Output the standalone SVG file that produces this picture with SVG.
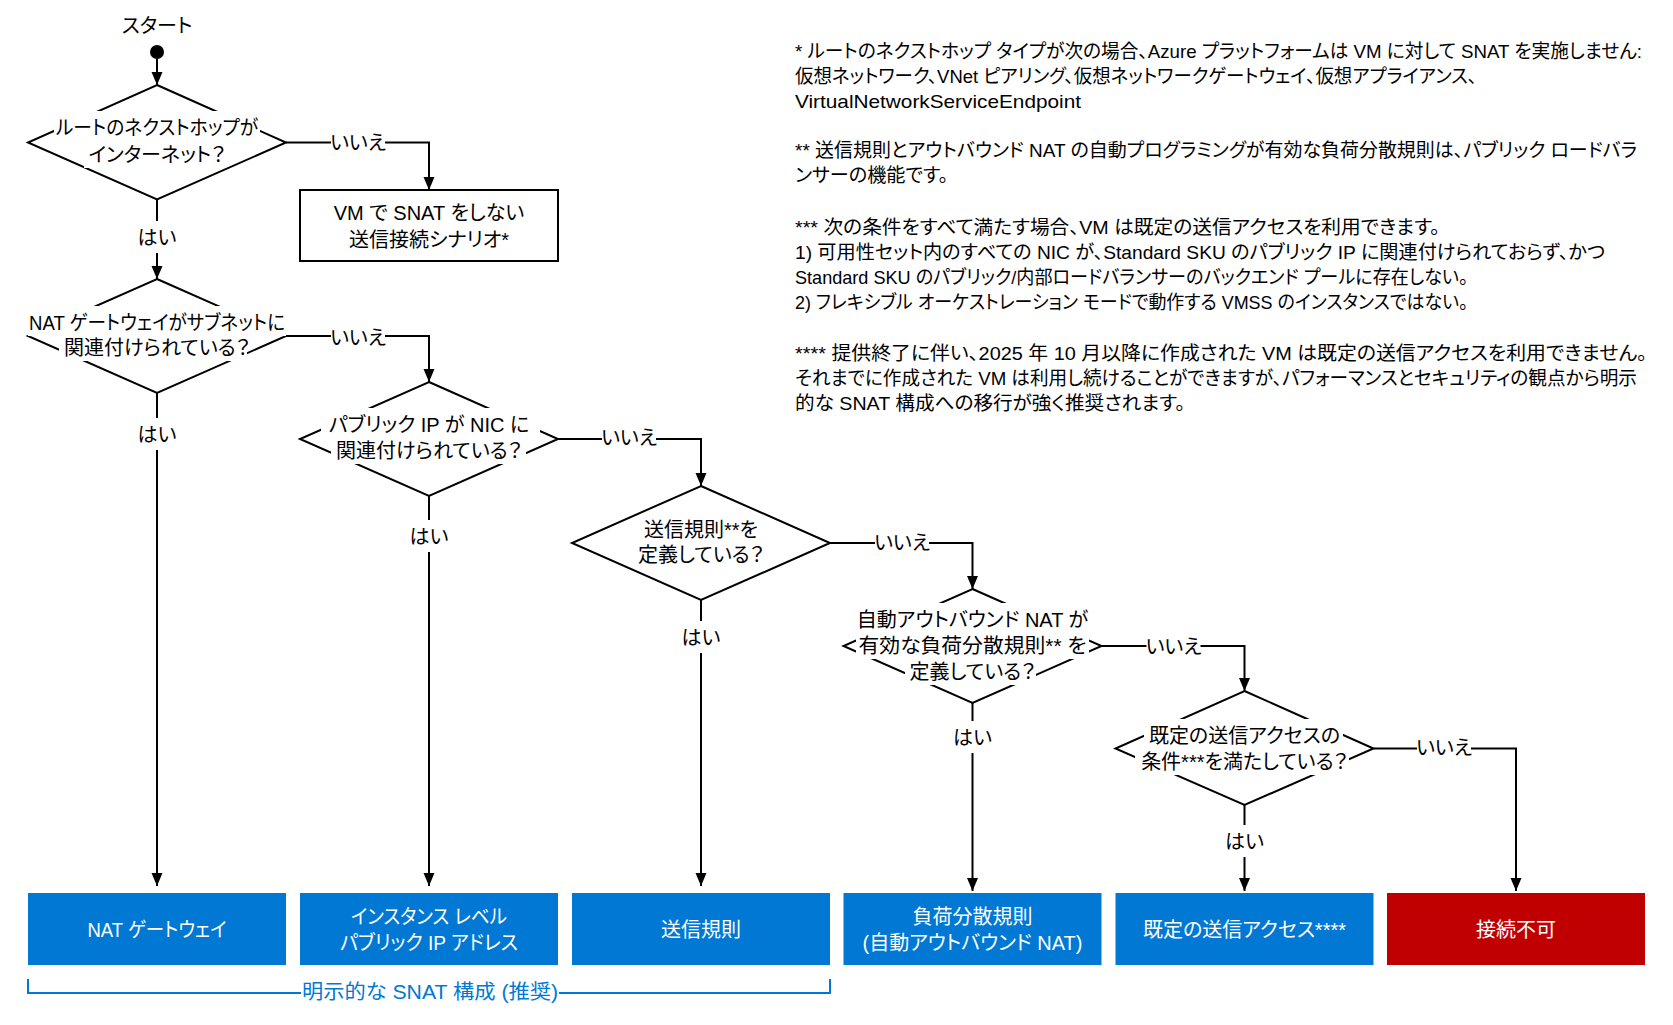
<svg xmlns="http://www.w3.org/2000/svg" width="1673" height="1025" viewBox="0 0 1673 1025">
<style>
text { font-family: "Liberation Sans", "Noto Sans CJK JP", sans-serif; font-size: 20px; font-feature-settings: "palt"; fill: #000; }
.c { text-anchor: middle; }
.bg { fill: #fff; }
.dia { fill: #fff; stroke: #000; stroke-width: 2; }
.edge { fill: none; stroke: #000; stroke-width: 2; marker-end: url(#ah); }
.box { stroke: none; }
.blue { fill: #0078D4; }
.red { fill: #C00000; }
.wt { fill: #fff; }
.bt { fill: #0078D4; }
.n { font-size: 19px; }
</style>
<defs>
<marker id="ah" markerUnits="userSpaceOnUse" markerWidth="14" markerHeight="12" refX="13" refY="6" orient="auto">
<path d="M0,0.5 L13,6 L0,11.5 z" fill="#000"/>
</marker>
</defs>
<rect x="0" y="0" width="1673" height="1025" fill="#fff"/>

<g id="start">
<text class="c" x="157" y="33">スタート</text>
<circle cx="157" cy="52" r="7" fill="#000"/>
</g>

<g id="d1">
<polygon class="dia" points="157,85 286,142.5 157,199.5 28,142.5"/>
<rect class="bg" x="54" y="111" width="206" height="30"/>
<rect class="bg" x="84" y="138" width="132" height="30"/>
<text class="c" x="157" y="135" textLength="202" lengthAdjust="spacingAndGlyphs">ルートのネクストホップが</text>
<text class="c" x="157" y="162">インターネット？</text>
</g>

<g id="no-snat">
<rect x="300" y="190" width="258" height="71" fill="#fff" stroke="#000" stroke-width="2"/>
<text class="c" x="429" y="220">VM で SNAT をしない</text>
<text class="c" x="429" y="247">送信接続シナリオ*</text>
</g>

<g id="d2">
<polygon class="dia" points="157,279 286,336 157,393 28,336"/>
<rect class="bg" x="28" y="306" width="259" height="30"/>
<rect class="bg" x="59" y="331" width="188" height="30"/>
<text class="c" x="157" y="330" textLength="256" lengthAdjust="spacingAndGlyphs">NAT ゲートウェイがサブネットに</text>
<text class="c" x="157" y="355">関連付けられている？</text>
</g>

<g id="d3">
<polygon class="dia" points="429,382 558,439 429,496 300,439"/>
<rect class="bg" x="321" y="408" width="219" height="30"/>
<rect class="bg" x="331" y="434" width="195" height="30"/>
<text class="c" x="429" y="432">パブリック IP が NIC に</text>
<text class="c" x="429" y="458">関連付けられている？</text>
</g>

<g id="d4">
<polygon class="dia" points="701,486 830,543 701,600 572,543"/>
<text class="c" x="701" y="537">送信規則**を</text>
<text class="c" x="701" y="562">定義している？</text>
</g>

<g id="d5">
<polygon class="dia" points="972.5,589 1101.5,646 972.5,703 843.5,646"/>
<rect class="bg" x="858" y="603" width="235" height="30"/>
<rect class="bg" x="856" y="629" width="233" height="30"/>
<rect class="bg" x="905" y="655" width="131" height="30"/>
<text class="c" x="972.5" y="627">自動アウトバウンド NAT が</text>
<text class="c" x="972.5" y="653" textLength="228" lengthAdjust="spacingAndGlyphs">有効な負荷分散規則** を</text>
<text class="c" x="972.5" y="679">定義している？</text>
</g>

<g id="d6">
<polygon class="dia" points="1244.5,691 1373.5,748.5 1244.5,805 1115.5,748.5"/>
<rect class="bg" x="1144" y="719" width="199" height="30"/>
<rect class="bg" x="1135" y="745" width="214" height="30"/>
<text class="c" x="1244.5" y="743">既定の送信アクセスの</text>
<text class="c" x="1244.5" y="769">条件***を満たしている？</text>
</g>

<g id="r1">
<rect class="box blue" x="28" y="893" width="258" height="72"/>
<text class="c wt" x="157" y="937" textLength="139" lengthAdjust="spacingAndGlyphs">NAT ゲートウェイ</text>
</g>
<g id="r2">
<rect class="box blue" x="300" y="893" width="258" height="72"/>
<text class="c wt" x="429" y="924" textLength="156" lengthAdjust="spacingAndGlyphs">インスタンス レベル</text>
<text class="c wt" x="429" y="950" textLength="178" lengthAdjust="spacingAndGlyphs">パブリック IP アドレス</text>
</g>
<g id="r3">
<rect class="box blue" x="572" y="893" width="258" height="72"/>
<text class="c wt" x="701" y="937">送信規則</text>
</g>
<g id="r4">
<rect class="box blue" x="843.5" y="893" width="258" height="72"/>
<text class="c wt" x="972.5" y="924">負荷分散規則</text>
<text class="c wt" x="972.5" y="950">(自動アウトバウンド NAT)</text>
</g>
<g id="r5">
<rect class="box blue" x="1115.5" y="893" width="258" height="72"/>
<text class="c wt" x="1244.5" y="937">既定の送信アクセス****</text>
</g>
<g id="r6">
<rect class="box red" x="1387" y="893" width="258" height="72"/>
<text class="c wt" x="1516" y="937">接続不可</text>
</g>

<g id="bracket">
<path d="M28,979 V993 H830 V979" fill="none" stroke="#0078D4" stroke-width="2"/>
<rect class="bg" x="301" y="980" width="258" height="26"/>
<text class="c bt" x="430" y="999" textLength="256" lengthAdjust="spacingAndGlyphs">明示的な SNAT 構成 (推奨)</text>
</g>

<g id="notes" class="n">
<text class="n" x="795" y="58" textLength="847" lengthAdjust="spacingAndGlyphs">* ルートのネクストホップ タイプが次の場合、Azure プラットフォームは VM に対して SNAT を実施しません:</text>
<text class="n" x="795" y="83" textLength="682" lengthAdjust="spacingAndGlyphs">仮想ネットワーク、VNet ピアリング、仮想ネットワークゲートウェイ、仮想アプライアンス、</text>
<text class="n" x="795" y="108" textLength="286" lengthAdjust="spacingAndGlyphs">VirtualNetworkServiceEndpoint</text>
<text class="n" x="795" y="157" textLength="842" lengthAdjust="spacingAndGlyphs">** 送信規則とアウトバウンド NAT の自動プログラミングが有効な負荷分散規則は、パブリック ロードバラ</text>
<text class="n" x="795" y="182" textLength="153" lengthAdjust="spacingAndGlyphs">ンサーの機能です。</text>
<text class="n" x="795" y="234" textLength="645" lengthAdjust="spacingAndGlyphs">*** 次の条件をすべて満たす場合、VM は既定の送信アクセスを利用できます。</text>
<text class="n" x="795" y="259" textLength="810" lengthAdjust="spacingAndGlyphs">1) 可用性セット内のすべての NIC が、Standard SKU のパブリック IP に関連付けられておらず、かつ</text>
<text class="n" x="795" y="284" textLength="673" lengthAdjust="spacingAndGlyphs">Standard SKU のパブリック/内部ロードバランサーのバックエンド プールに存在しない。</text>
<text class="n" x="795" y="309" textLength="673" lengthAdjust="spacingAndGlyphs">2) フレキシブル オーケストレーション モードで動作する VMSS のインスタンスではない。</text>
<text class="n" x="795" y="360" textLength="852" lengthAdjust="spacingAndGlyphs">**** 提供終了に伴い、2025 年 10 月以降に作成された VM は既定の送信アクセスを利用できません。</text>
<text class="n" x="795" y="385" textLength="842" lengthAdjust="spacingAndGlyphs">それまでに作成された VM は利用し続けることができますが、パフォーマンスとセキュリティの観点から明示</text>
<text class="n" x="795" y="410" textLength="390" lengthAdjust="spacingAndGlyphs">的な SNAT 構成への移行が強く推奨されます。</text>
</g>

<g id="connectors">
<path class="edge" d="M157,59 V85"/>
<path class="edge" d="M286,142.5 H429 V190"/>
<path class="edge" d="M157,199.5 V279"/>
<path class="edge" d="M286,336 H429 V382"/>
<path class="edge" d="M157,393 V886"/>
<path class="edge" d="M558,439 H701 V486"/>
<path class="edge" d="M429,496 V886"/>
<path class="edge" d="M830,543 H972.5 V589"/>
<path class="edge" d="M701,600 V886"/>
<path class="edge" d="M1101.5,646 H1244.5 V691"/>
<path class="edge" d="M972.5,703 V891"/>
<path class="edge" d="M1373.5,748.5 H1516 V891"/>
<path class="edge" d="M1244.5,805 V891"/>
</g>

<g id="edge-labels">
<rect class="bg" x="331" y="128" width="54" height="28"/>
<text class="c" x="358" y="150">いいえ</text>
<rect class="bg" x="331" y="323" width="54" height="28"/>
<text class="c" x="358" y="345">いいえ</text>
<rect class="bg" x="602" y="423" width="54" height="28"/>
<text class="c" x="629" y="445">いいえ</text>
<rect class="bg" x="875" y="528" width="54" height="28"/>
<text class="c" x="902" y="550">いいえ</text>
<rect class="bg" x="1146.5" y="632" width="54" height="28"/>
<text class="c" x="1173.5" y="654">いいえ</text>
<rect class="bg" x="1417" y="733" width="54" height="28"/>
<text class="c" x="1444" y="755">いいえ</text>
<rect class="bg" x="137" y="221" width="40" height="32"/>
<text class="c" x="157" y="245">はい</text>
<rect class="bg" x="137" y="418" width="40" height="32"/>
<text class="c" x="157" y="442">はい</text>
<rect class="bg" x="409" y="520" width="40" height="32"/>
<text class="c" x="429" y="544">はい</text>
<rect class="bg" x="681" y="621" width="40" height="32"/>
<text class="c" x="701" y="645">はい</text>
<rect class="bg" x="952.5" y="721" width="40" height="32"/>
<text class="c" x="972.5" y="745">はい</text>
<rect class="bg" x="1224.5" y="825" width="40" height="32"/>
<text class="c" x="1244.5" y="849">はい</text>
</g>
</svg>
